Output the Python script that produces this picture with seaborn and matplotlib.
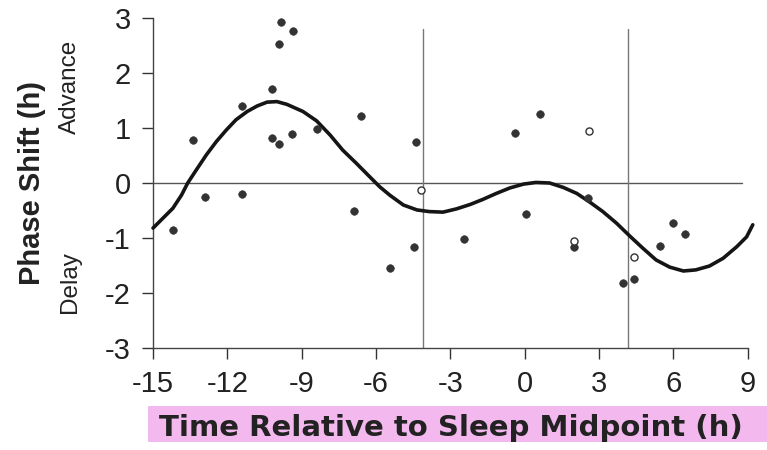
import pandas as pd
import matplotlib.pyplot as plt
import seaborn as sns
from matplotlib.patches import Rectangle

# individual phase shifts (filled = one group, open = other)
filled_x = [-14.2, -13.4, -12.9, -11.4, -11.4, -10.2, -10.2, -9.9, -9.9, -9.85,
            -9.35, -9.4, -8.4, -6.6, -6.9, -5.45, -4.4, -4.45, -2.45, -0.4,
            0.6, 0.05, 2.0, 2.55, 3.95, 4.4, 5.45, 6.0, 6.45]
filled_y = [-0.86, 0.78, -0.25, 1.40, -0.20, 1.70, 0.81, 0.71, 2.53, 2.93,
            2.77, 0.89, 0.99, 1.21, -0.51, -1.54, 0.75, -1.16, -1.02, 0.91,
            1.25, -0.56, -1.16, -0.28, -1.81, -1.75, -1.14, -0.72, -0.92]
open_x = [-4.17, 2.0, 2.6, 4.42]
open_y = [-0.12, -1.06, 0.94, -1.34]

# fitted curve
curve_x = [-15.0, -14.6, -14.2, -13.85, -13.6, -13.25, -12.85, -12.45, -12.05, -11.65,
           -11.2, -10.8, -10.4, -10.0, -9.6, -9.15, -8.95, -8.4, -7.85, -7.35,
           -6.8, -6.25, -5.85, -5.45, -4.9, -4.35, -3.85, -3.3, -2.75, -2.2,
           -1.7, -1.15, -0.6, -0.05, 0.45, 1.0, 1.55, 2.1, 2.6, 3.15,
           3.7, 4.25, 4.75, 5.3, 5.85, 6.4, 6.9, 7.45, 8.0, 8.55,
           8.95, 9.2]
curve_y = [-0.82, -0.64, -0.46, -0.22, 0.0, 0.24, 0.51, 0.75, 0.96, 1.15,
           1.30, 1.40, 1.47, 1.48, 1.43, 1.34, 1.30, 1.13, 0.87, 0.60,
           0.36, 0.11, -0.07, -0.22, -0.40, -0.49, -0.52, -0.53, -0.47, -0.39,
           -0.30, -0.19, -0.09, -0.02, 0.01, 0.0, -0.08, -0.19, -0.34, -0.52,
           -0.73, -0.97, -1.18, -1.40, -1.53, -1.60, -1.58, -1.51, -1.37, -1.16,
           -0.98, -0.76]

x_ticks = [-15, -12, -9, -6, -3, 0, 3, 6, 9]
y_ticks = [-3, -2, -1, 0, 1, 2, 3]
sleep_bounds = [-4.1, 4.15]

sns.set_style("ticks")
plt.rcParams['font.family'] = ['Liberation Sans', 'DejaVu Sans']
plt.rcParams['axes.unicode_minus'] = False

fig = plt.figure(figsize=(7.67, 4.5), dpi=100)
ax = fig.add_axes([0.1995, 0.2267, 0.7755, 0.7333])

# highlighter stroke behind the x label
fig.patches.append(Rectangle((0.193, 0.018), 0.81, 0.08, transform=fig.transFigure,
                             facecolor='#f0a6ea', edgecolor='none', alpha=0.8, zorder=0))

ax.axhline(0, xmin=0, xmax=0.99, color='#555555', lw=1.0, zorder=1)
for xb in sleep_bounds:
    ax.plot([xb, xb], [-3, 2.8], color='#777777', lw=1.0, zorder=1)

curve = pd.DataFrame({'x': curve_x, 'y': curve_y})
sns.lineplot(data=curve, x='x', y='y', ax=ax, color='#151515', lw=2.6,
             sort=False, zorder=3, clip_on=False, solid_joinstyle='round')

pts = pd.DataFrame({'x': filled_x, 'y': filled_y})
sns.scatterplot(data=pts, x='x', y='y', ax=ax, color='#333333', s=30,
                edgecolor='#333333', zorder=4)
opn = pd.DataFrame({'x': open_x, 'y': open_y})
sns.scatterplot(data=opn, x='x', y='y', ax=ax, color='white', s=26,
                edgecolor='#333333', linewidth=1.0, zorder=4)

ax.set_xlim(-15, 9)
ax.set_ylim(-3, 3)
ax.set_xticks(x_ticks)
ax.set_yticks(y_ticks)
ax.tick_params(axis='both', direction='out', length=8, width=1.0, color='#333333',
               labelsize=21, labelcolor='#222222', pad=8)
sns.despine(ax=ax)
for side in ['left', 'bottom']:
    ax.spines[side].set_color('#444444')
    ax.spines[side].set_linewidth(1.0)

ax.set_xlabel('')
ax.set_ylabel('')
fig.text(0.588, 0.048, 'Time Relative to Sleep Midpoint (h)', ha='center', va='center',
         fontsize=21, fontweight='bold', color='#222222', family='DejaVu Sans')
fig.text(0.042, 0.593, 'Phase Shift (h)', ha='center', va='center', rotation=90,
         fontsize=21, fontweight='bold', color='#222222')
fig.text(0.091, 0.807, 'Advance', ha='center', va='center', rotation=90,
         fontsize=17.5, color='#222222')
fig.text(0.091, 0.373, 'Delay', ha='center', va='center', rotation=90,
         fontsize=17.5, color='#222222')

fig.savefig('out.png', dpi=100)
